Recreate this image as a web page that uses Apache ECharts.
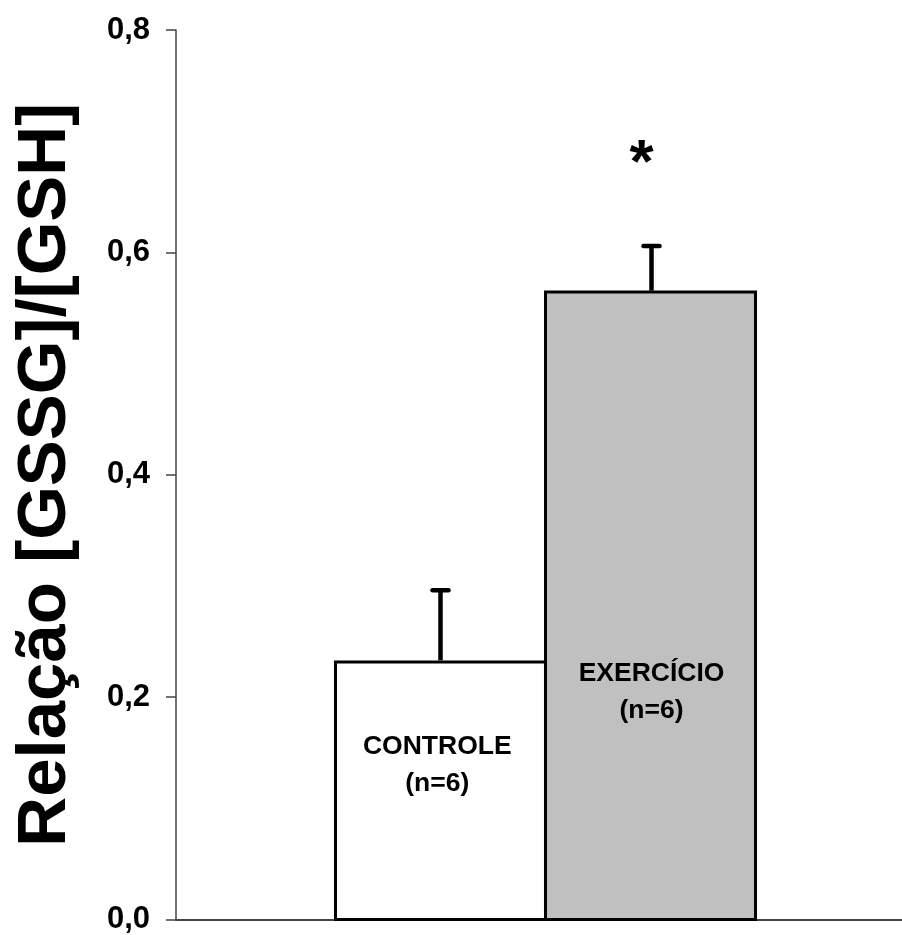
<!DOCTYPE html>
<html>
<head>
<meta charset="utf-8">
<script src="https://cdn.jsdelivr.net/npm/echarts@6/dist/echarts.min.js"></script>
<style>
html,body{margin:0;padding:0;background:#fff;}
#chart{width:902px;height:935px;}
</style>
</head>
<body>
<div id="chart"></div>
<script>
// ---- data ----
const groups = ['CONTROLE', 'EXERCÍCIO'];
const groupN = ['(n=6)', '(n=6)'];
const means = [0.234, 0.566];
const errors = [0.063, 0.040];
const significance = ['', '*'];
const yTicks = [0.0, 0.2, 0.4, 0.6, 0.8];
const yTitle = 'Relação [GSSG]/[GSH]';
const barColors = ['#ffffff', '#c0c0c0'];

// ---- style ----
const FONT = '"Liberation Sans", Arial, Helvetica, sans-serif';
const BAR_W = 213;
const labelPos = [['48.5%', 105], ['50.5%', 402]];

const chart = echarts.init(document.getElementById('chart'), null, {renderer: 'canvas'});

const barSeries = groups.map((g, i) => ({
  name: g,
  type: 'bar',
  xAxisIndex: 0,
  yAxisIndex: 0,
  barWidth: BAR_W,
  barGap: '-1.4%',
  data: [means[i]],
  itemStyle: {color: barColors[i], borderColor: '#000', borderWidth: 3},
  label: {
    show: true,
    position: labelPos[i],
    align: 'center',
    verticalAlign: 'middle',
    formatter: g + '\n' + groupN[i],
    fontFamily: FONT,
    fontWeight: 'bold',
    fontSize: 26.5,
    lineHeight: 37,
    color: '#000'
  },
  z: 2
}));

const errSeries = {
  type: 'custom',
  xAxisIndex: 0,
  yAxisIndex: 0,
  data: means.map((m, i) => [0, m, errors[i], i]),
  z: 5,
  renderItem: function (params, api) {
    const i = api.value(3);
    const m = api.value(1);
    const e = api.value(2);
    const base = api.coord([0, m]);
    const top = api.coord([0, m + e]);
    const x = base[0] + (i === 0 ? -105 : 106);
    const children = [
      {type: 'line', shape: {x1: x, y1: base[1], x2: x, y2: top[1]},
       style: {stroke: '#000', lineWidth: 4.5}},
      {type: 'line', shape: {x1: x - 8, y1: top[1], x2: x + 8, y2: top[1]},
       style: {stroke: '#000', lineWidth: 4.5, lineCap: 'round'}}
    ];
    if (significance[i]) {
      children.push({type: 'text', x: x - 10, y: top[1] - 81,
        style: {text: significance[i], font: 'bold 62px ' + FONT, fill: '#000',
                textAlign: 'center', textVerticalAlign: 'middle'}});
    }
    return {type: 'group', children: children};
  }
};

const yCommon = {
  type: 'value',
  min: yTicks[0],
  max: yTicks[yTicks.length - 1],
  interval: 0.2,
  splitLine: {show: false}
};

chart.setOption({
  animation: false,
  backgroundColor: '#fff',
  grid: [
    {left: 189, top: 30, bottom: 14, right: 0, containLabel: false},
    {left: 176, top: 30, bottom: 14, right: 0, containLabel: false}
  ],
  xAxis: [
    {
      gridIndex: 0,
      type: 'category',
      data: ['g'],
      axisLine: {show: false},
      axisTick: {show: false},
      axisLabel: {show: false},
      splitLine: {show: false}
    },
    {
      gridIndex: 1,
      type: 'category',
      data: ['g'],
      axisLine: {show: true, lineStyle: {color: '#444', width: 2}},
      axisTick: {show: false},
      axisLabel: {show: false},
      splitLine: {show: false}
    }
  ],
  yAxis: [
    Object.assign({gridIndex: 0, show: false}, yCommon),
    Object.assign({
      gridIndex: 1,
      name: yTitle,
      nameLocation: 'middle',
      nameGap: 96,
      nameRotate: 90,
      nameTextStyle: {fontFamily: FONT, fontWeight: 'bold', fontSize: 69, color: '#000'},
      axisLine: {show: true, lineStyle: {color: '#444', width: 1.5}},
      axisTick: {show: true, inside: false, length: 10, lineStyle: {color: '#444', width: 1.5}},
      axisLabel: {
        margin: 26,
        fontFamily: FONT, fontWeight: 'bold', fontSize: 31, color: '#000',
        formatter: v => v.toFixed(1).replace('.', ',')
      }
    }, yCommon)
  ],
  series: [...barSeries, errSeries]
});
</script>
</body>
</html>
